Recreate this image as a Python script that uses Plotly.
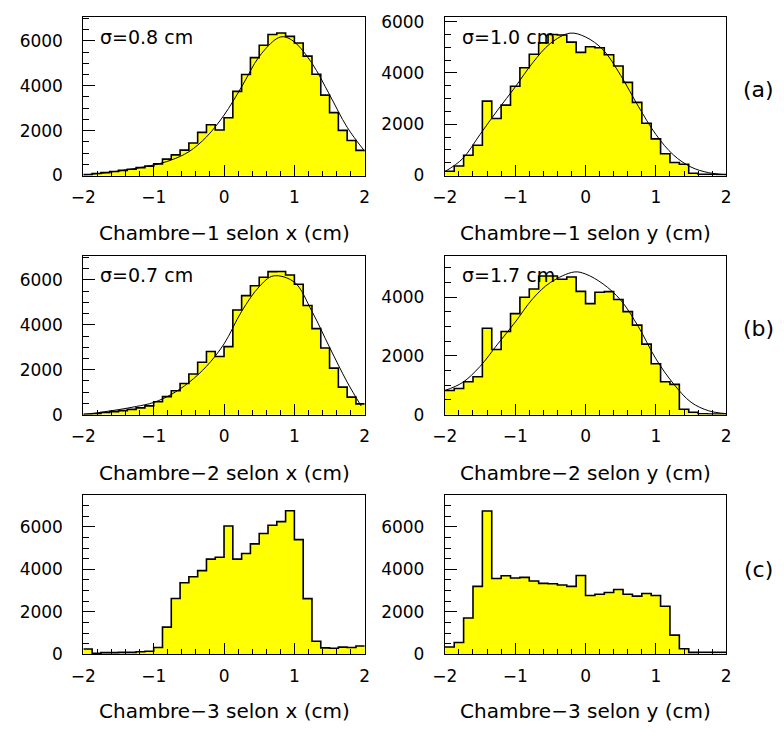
import numpy as np
import plotly.graph_objects as go

# ---------------- data ----------------
x_min, x_max = -2.0, 2.0

# Chambre-1 selon x : 32 bins
ch1_x_counts = [40, 90, 130, 180, 230, 280, 350, 420, 520, 730, 920, 1130, 1450, 1920, 2260, 2030,
                2570, 3750, 4500, 5250, 5800, 6280, 6350, 6200, 5900, 5320, 4510, 3580, 2800, 2010, 1560, 1120]
# Chambre-1 selon y : 30 bins
ch1_y_counts = [165, 370, 790, 1180, 2900, 2220, 2745, 3480, 4200, 4730, 5170, 5500, 5480, 5200, 4800,
                5020, 4980, 4710, 4270, 3630, 2850, 2040, 1430, 850, 510, 440, 90, 50, 50, 40]
# Chambre-2 selon x : 32 bins
ch2_x_counts = [15, 40, 90, 130, 175, 230, 300, 390, 570, 800, 1060, 1385, 1810, 2330, 2810, 2590,
                3030, 4660, 5300, 5740, 6120, 6370, 6380, 6220, 5810, 4860, 3830, 2970, 2070, 1225, 780, 475]
# Chambre-2 selon y : 30 bins
ch2_y_counts = [820, 890, 1120, 1290, 2940, 2220, 2830, 3440, 4000, 4280, 4720, 4720, 4610, 4690, 4200,
                3780, 4170, 4190, 3920, 3510, 3050, 2400, 1730, 1120, 1030, 180, 80, 30, 20, 20]
# Chambre-3 selon x : 32 bins
ch3_x_counts = [250, 45, 75, 75, 90, 90, 120, 140, 320, 1280, 2630, 3370, 3650, 3940, 4480, 4570,
                6040, 4480, 4750, 5200, 5690, 6080, 6250, 6760, 5400, 2620, 610, 300, 285, 335, 315, 390]
# Chambre-3 selon y : 30 bins
ch3_y_counts = [340, 550, 1710, 3200, 6750, 3570, 3700, 3590, 3620, 3450, 3340, 3320, 3260, 3200, 3710,
                2770, 2830, 2910, 3050, 2830, 2740, 2860, 2770, 2260, 900, 260, 90, 95, 95, 95]

fit1x_x = [-2, -1.75, -1.5, -1.25, -1, -0.75, -0.5, -0.25, 0, 0.25, 0.5, 0.75, 0.85, 1.0, 1.25, 1.5, 1.75, 2.0]
fit1x_y = [20, 100, 200, 320, 470, 690, 1060, 1720, 2690, 3950, 5300, 6100, 6180, 5950, 5000, 3600, 2150, 1080]

fit1y_x = [-2, -1.75, -1.5, -1.25, -1, -0.75, -0.5, -0.22, 0, 0.25, 0.5, 0.75, 1.0, 1.25, 1.5, 1.75, 2.0]
fit1y_y = [150, 650, 1600, 2550, 3450, 4400, 5150, 5550, 5400, 4900, 3900, 2700, 1600, 800, 330, 110, 30]

fit2x_x = [-2, -1.75, -1.5, -1.25, -1, -0.75, -0.5, -0.25, 0, 0.25, 0.5, 0.7, 1.0, 1.25, 1.5, 1.75, 1.95]
fit2x_y = [10, 100, 220, 360, 540, 900, 1430, 2150, 3150, 4600, 5700, 6180, 5900, 4600, 3000, 1450, 380]

fit2y_x = [-2, -1.75, -1.5, -1.25, -1, -0.75, -0.5, -0.16, 0, 0.25, 0.5, 0.75, 1.0, 1.25, 1.5, 1.75, 2.0]
fit2y_y = [820, 1090, 1640, 2400, 3150, 3950, 4500, 4860, 4790, 4450, 3900, 3000, 1900, 1050, 420, 130, 30]

titles = ["Chambre\u22121 selon x (cm)", "Chambre\u22121 selon y (cm)",
          "Chambre\u22122 selon x (cm)", "Chambre\u22122 selon y (cm)",
          "Chambre\u22123 selon x (cm)", "Chambre\u22123 selon y (cm)"]
sigma_labels = ["\u03c3=0.8 cm", "\u03c3=1.0 cm", "\u03c3=0.7 cm", "\u03c3=1.7 cm", None, None]
row_labels = ["(a)", "(b)", "(c)"]

counts_list = [ch1_x_counts, ch1_y_counts, ch2_x_counts, ch2_y_counts, ch3_x_counts, ch3_y_counts]
fits = [(fit1x_x, fit1x_y), (fit1y_x, fit1y_y), (fit2x_x, fit2x_y), (fit2y_x, fit2y_y), None, None]

# ---------------- layout constants ----------------
W, H = 784, 733
FONT = "DejaVu Sans"
col_px = [(72, 360), (442, 730)]
row_px = [(11.5, 173.3), (256.0, 417.7), (500.0, 662.7)]
ymaxes = [7050, 6170, 7050, 5390, 7500, 7500]

fig = go.Figure()
layout = dict(width=W, height=H, margin=dict(l=0, r=0, t=0, b=0),
              paper_bgcolor="white", plot_bgcolor="white", showlegend=False,
              bargap=0, barmode="overlay", font=dict(family=FONT, color="black"))
annotations = []

for i in range(6):
    r, c = divmod(i, 2)
    sfx = "" if i == 0 else str(i + 1)
    xa, ya = "x" + sfx, "y" + sfx
    counts = counts_list[i]
    n = len(counts)
    edges = np.linspace(x_min, x_max, n + 1)
    w = (x_max - x_min) / n
    centers = edges[:-1] + w / 2

    fig.add_trace(go.Bar(x=centers, y=counts, width=w, xaxis=xa, yaxis=ya,
                         marker=dict(color="#FFFF00", line=dict(width=0)), hoverinfo="skip"))
    fig.add_trace(go.Scatter(x=edges, y=list(counts) + [counts[-1]], mode="lines",
                             line=dict(color="black", width=1.6, shape="hv"),
                             xaxis=xa, yaxis=ya, hoverinfo="skip"))
    if fits[i] is not None:
        fx, fy = fits[i]
        fig.add_trace(go.Scatter(x=fx, y=fy, mode="lines",
                                 line=dict(color="black", width=1, shape="spline", smoothing=1.0),
                                 xaxis=xa, yaxis=ya, hoverinfo="skip"))

    x0, x1 = col_px[c]
    t, b = row_px[r]
    layout["xaxis" + sfx] = dict(
        domain=[x0 / W, x1 / W], anchor=ya, range=[x_min, x_max],
        showgrid=False, zeroline=False, showline=True, linecolor="black", linewidth=1, mirror=True,
        ticks="inside", ticklen=11, tickwidth=1, tickcolor="black", tick0=0, dtick=1,
        minor=dict(dtick=0.2, ticks="inside", ticklen=5, tickwidth=1, tickcolor="black", showgrid=False),
        tickfont=dict(family=FONT, size=17, color="black"), ticklabelstandoff=6, fixedrange=True)
    layout["yaxis" + sfx] = dict(
        domain=[1 - b / H, 1 - t / H], anchor=xa, range=[0, ymaxes[i]],
        showgrid=False, zeroline=False, showline=True, linecolor="black", linewidth=1, mirror=True,
        ticks="inside", ticklen=12, tickwidth=1, tickcolor="black", tick0=0, dtick=2000,
        minor=dict(dtick=500, ticks="inside", ticklen=6, tickwidth=1, tickcolor="black", showgrid=False),
        tickfont=dict(family=FONT, size=17, color="black"), ticklabelstandoff=16, fixedrange=True)

    # axis title below each panel
    title_y = [232, 477, 721][r]
    annotations.append(dict(text=titles[i], x=(x0 + x1) / 2 / W, y=1 - title_y / H,
                            xref="paper", yref="paper", xanchor="center", yanchor="middle",
                            showarrow=False, font=dict(family=FONT, size=20, color="black")))
    if sigma_labels[i]:
        sy = [32, 275][r]
        annotations.append(dict(text=sigma_labels[i], x=(x0 + 15) / W, y=1 - sy / H,
                                xref="paper", yref="paper", xanchor="left", yanchor="middle",
                                showarrow=False, font=dict(family=FONT, size=19, color="black")))

for r, lab in enumerate(row_labels):
    annotations.append(dict(text=lab, x=763 / W, y=1 - [85, 330, 576][r] / H,
                            xref="paper", yref="paper", xanchor="center", yanchor="middle",
                            showarrow=False, font=dict(family=FONT, size=22, color="black")))

layout["annotations"] = annotations
fig.update_layout(**layout)
fig.write_html("out.html", config={"displayModeBar": False, "staticPlot": True},
               post_script="document.body.style.margin='0px';document.body.style.overflow='hidden';")
